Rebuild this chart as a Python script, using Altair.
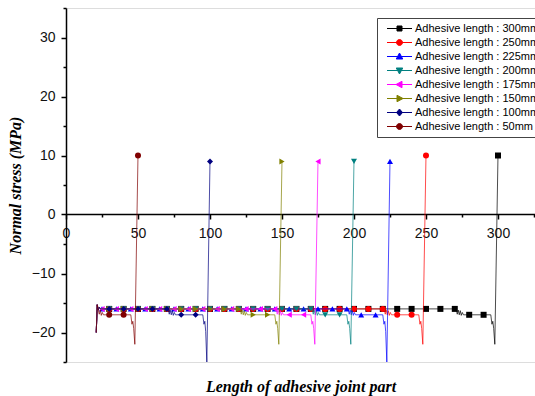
import altair as alt
import pandas as pd

names = [
    "Adhesive length : 300mm", "Adhesive length : 250mm", "Adhesive length : 225mm",
    "Adhesive length : 200mm", "Adhesive length : 175mm", "Adhesive length : 150mm",
    "Adhesive length : 100mm", "Adhesive length : 50mm",
]
colors = ["#000000", "#ff0000", "#0000ff", "#008080", "#ff00ff", "#808000", "#000080", "#800000"]
shapes = ["square", "circle", "triangle-up", "triangle-down", "triangle-left", "triangle-right", "diamond", "circle"]

# legend symbols: short line + marker (custom paths)
legend_paths = [
    "M-2.5,0H2.5M-0.5,-0.5H0.5V0.5H-0.5Z",
    "M-2.5,0H2.5M-0.6,0A0.6,0.6,0,1,0,0.6,0A0.6,0.6,0,1,0,-0.6,0Z",
    "M-2.5,0H2.5M0,-0.7L0.65,0.5L-0.65,0.5Z",
    "M-2.5,0H2.5M0,0.7L0.65,-0.5L-0.65,-0.5Z",
    "M-2.5,0H2.5M-0.7,0L0.5,-0.65L0.5,0.65Z",
    "M-2.5,0H2.5M0.7,0L-0.5,-0.65L-0.5,0.65Z",
    "M-2.5,0H2.5M0,-0.7L0.6,0L0,0.7L-0.6,0Z",
    "M-2.5,0H2.5M-0.6,0A0.6,0.6,0,1,0,0.6,0A0.6,0.6,0,1,0,-0.6,0Z",
]

# ---- line paths (x in mm, y in MPa) ----
lx300 = [21, 21.7, 22.4, 23.1, 24, 271, 271.7, 272.4, 273.1, 273.8, 274.5, 275.2, 276, 295, 295.8, 296.4, 297, 297.8, 300]
ly300 = [-20, -15.3, -16.2, -15.7, -16, -16, -16.9, -16.2, -17, -16.3, -17.1, -16.6, -17, -17, -18.6, -18.1, -19.3, -22, 10]
lx250 = [21, 21.7, 22.4, 23.1, 24, 221, 221.7, 222.4, 223.1, 223.8, 224.5, 225.2, 226, 245, 245.8, 246.4, 247, 247.8, 250]
ly250 = [-20, -15.3, -16.2, -15.7, -16, -16, -16.9, -16.2, -17, -16.3, -17.1, -16.6, -17, -17, -18.6, -18.1, -19.3, -22, 10]
lx225 = [21, 21.7, 22.4, 23.1, 24, 196, 196.7, 197.4, 198.1, 198.8, 199.5, 200.2, 201, 220, 220.8, 221.4, 222, 222.8, 225]
ly225 = [-20, -15.3, -16.2, -15.7, -16, -16, -16.9, -16.2, -17, -16.3, -17.1, -16.6, -17, -17, -18.6, -18.1, -19.8, -25, 9]
lx200 = [21, 21.7, 22.4, 23.1, 24, 171, 171.7, 172.4, 173.1, 173.8, 174.5, 175.2, 176, 195, 195.8, 196.4, 197, 197.8, 200]
ly200 = [-20, -15.3, -16.2, -15.7, -16, -16, -16.9, -16.2, -17, -16.3, -17.1, -16.6, -17, -17, -18.6, -18.1, -19.3, -22, 9]
lx175 = [21, 21.7, 22.4, 23.1, 24, 146, 146.7, 147.4, 148.1, 148.8, 149.5, 150.2, 151, 170, 170.8, 171.4, 172, 172.8, 175]
ly175 = [-20, -15.3, -16.2, -15.7, -16, -16, -16.9, -16.2, -17, -16.3, -17.1, -16.6, -17, -17, -18.6, -18.1, -19.3, -22, 9]
lx150 = [21, 21.7, 22.4, 23.1, 24, 121, 121.7, 122.4, 123.1, 123.8, 124.5, 125.2, 126, 145, 145.8, 146.4, 147, 147.8, 150]
ly150 = [-20, -15.3, -16.2, -15.7, -16, -16, -16.9, -16.2, -17, -16.3, -17.1, -16.6, -17, -17, -18.6, -18.1, -19.3, -22, 9]
lx100 = [21, 21.7, 22.4, 23.1, 24, 71, 71.7, 72.4, 73.1, 73.8, 74.5, 75.2, 76, 95, 95.8, 96.4, 97, 97.8, 100]
ly100 = [-20, -15.3, -16.2, -15.7, -16, -16, -16.9, -16.2, -17, -16.3, -17.1, -16.6, -17, -17, -18.6, -18.1, -19.8, -25, 9]
lx50 = [21, 21.7, 22.4, 23.1, 23.8, 24.5, 25.2, 26, 45, 45.8, 46.4, 47, 47.8, 50]
ly50 = [-20, -15.3, -16.2, -16.9, -16.2, -17.1, -16.6, -17, -17, -18.6, -18.1, -19.3, -22, 10]

# ---- marker positions ----
mx300 = [30, 40, 50, 60, 70, 80, 90, 100, 110, 120, 130, 140, 150, 160, 170, 180, 190, 200, 210, 220, 230, 240, 250, 260, 270, 280, 290, 300]
my300 = [-16, -16, -16, -16, -16, -16, -16, -16, -16, -16, -16, -16, -16, -16, -16, -16, -16, -16, -16, -16, -16, -16, -16, -16, -16, -17, -17, 10]
mx250 = [30, 40, 50, 60, 70, 80, 90, 100, 110, 120, 130, 140, 150, 160, 170, 180, 190, 200, 210, 220, 230, 240, 250]
my250 = [-16, -16, -16, -16, -16, -16, -16, -16, -16, -16, -16, -16, -16, -16, -16, -16, -16, -16, -16, -16, -17, -17, 10]
mx225 = [25, 35, 45, 55, 65, 75, 85, 95, 105, 115, 125, 135, 145, 155, 165, 175, 185, 195, 205, 215, 225]
my225 = [-16, -16, -16, -16, -16, -16, -16, -16, -16, -16, -16, -16, -16, -16, -16, -16, -16, -16, -17, -17, 9]
mx200 = [30, 40, 50, 60, 70, 80, 90, 100, 110, 120, 130, 140, 150, 160, 170, 180, 190, 200]
my200 = [-16, -16, -16, -16, -16, -16, -16, -16, -16, -16, -16, -16, -16, -16, -16, -17, -17, 9]
mx175 = [25, 35, 45, 55, 65, 75, 85, 95, 105, 115, 125, 135, 145, 155, 165, 175]
my175 = [-16, -16, -16, -16, -16, -16, -16, -16, -16, -16, -16, -16, -16, -17, -17, 9]
mx150 = [30, 40, 50, 60, 70, 80, 90, 100, 110, 120, 130, 140, 150]
my150 = [-16, -16, -16, -16, -16, -16, -16, -16, -16, -16, -17, -17, 9]
mx100 = [30, 40, 50, 60, 70, 80, 90, 100]
my100 = [-16, -16, -16, -16, -16, -17, -17, 9]
mx50 = [30, 40, 50]
my50 = [-17, -17, 10]

line_xs = [lx300, lx250, lx225, lx200, lx175, lx150, lx100, lx50]
line_ys = [ly300, ly250, ly225, ly200, ly175, ly150, ly100, ly50]
mark_xs = [mx300, mx250, mx225, mx200, mx175, mx150, mx100, mx50]
mark_ys = [my300, my250, my225, my200, my175, my150, my100, my50]

x_ticks = [0, 25, 50, 75, 100, 125, 150, 175, 200, 225, 250, 275, 300, 325]
y_ticks = [-25, -20, -15, -10, -5, 0, 5, 10, 15, 20, 25, 30, 35]

xscale = alt.Scale(domain=[0, 325.7], nice=False, zero=False)
yscale = alt.Scale(domain=[-25, 35], nice=False, zero=False)

xaxis = alt.Axis(
    values=x_ticks, labelExpr="datum.value % 50 === 0 ? datum.label : ''",
    offset=-148, orient="bottom", grid=False, labelFlush=False, labelOverlap=False,
    tickSize={"condition": {"test": "datum.value % 50 === 0", "value": 5}, "value": 3},
    domainColor="black", tickColor="black", domainWidth=1.5, tickWidth=1.5,
    labelFont="Liberation Sans", labelFontSize=14, labelColor="#111", labelPadding=7,
    title="Length of adhesive joint part", titleFont="Liberation Serif", titleFontSize=16,
    titleFontWeight="bold", titleFontStyle="italic", titleColor="black",
    titleY=177, titleBaseline="alphabetic",
)
yaxis = alt.Axis(
    values=y_ticks, labelExpr="datum.value % 10 === 0 ? datum.label : ''",
    orient="left", grid=False, labelOverlap=False, labelFlush=False,
    tickSize={"condition": {"test": "datum.value % 10 === 0", "value": 5}, "value": 3},
    domainColor="black", tickColor="black", domainWidth=1.5, tickWidth=1.5,
    labelFont="Liberation Sans", labelFontSize=14, labelColor="#111", labelPadding=6,
    title="Normal stress (MPa)", titleFont="Liberation Serif", titleFontSize=16,
    titleFontWeight="bold", titleFontStyle="italic", titleColor="black",
    titleAngle=-90, titleX=-46, titleY=177, titleAlign="center", titleBaseline="alphabetic",
)

layers = []
for i in range(8):
    ldf = pd.DataFrame({"x": line_xs[i], "y": line_ys[i], "i": list(range(len(line_xs[i])))})
    pdf = pd.DataFrame({"x": mark_xs[i], "y": mark_ys[i]})
    line = alt.Chart(ldf).mark_line(color=colors[i], strokeWidth=1, opacity=0.7, clip=True).encode(
        x=alt.X("x:Q", scale=xscale, axis=xaxis),
        y=alt.Y("y:Q", scale=yscale, axis=yaxis),
        order="i:Q",
    )
    pts = alt.Chart(pdf).mark_point(filled=True, shape=shapes[i], size=36, color=colors[i],
                                    opacity=1, clip=True).encode(
        x=alt.X("x:Q", scale=xscale, axis=xaxis),
        y=alt.Y("y:Q", scale=yscale, axis=yaxis),
    )
    layers += [line, pts]

leg = alt.Legend(
    title=None, orient="none", legendX=311, legendY=10, padding=5,
    symbolOffset=12, labelOffset=10, symbolSize=100, symbolStrokeWidth=1,
    labelFont="Liberation Sans", labelFontSize=11, labelColor="black", labelLimit=400,
    rowPadding=2, fillColor="white", strokeColor="#444", symbolOpacity=1,
)
legdf = pd.DataFrame({"name": names, "x": [-100] * 8, "y": [0] * 8})
legend_layer = alt.Chart(legdf).mark_point(filled=True, size=100, clip=True).encode(
    x=alt.X("x:Q", scale=xscale, axis=xaxis),
    y=alt.Y("y:Q", scale=yscale, axis=yaxis),
    fill=alt.Fill("name:N", scale=alt.Scale(domain=names, range=colors), legend=leg),
    stroke=alt.Stroke("name:N", scale=alt.Scale(domain=names, range=colors), legend=leg),
    shape=alt.Shape("name:N", scale=alt.Scale(domain=names, range=legend_paths), legend=leg),
)

chart = alt.layer(legend_layer, *layers).properties(
    width=469, height=354,
    padding={"left": 66, "top": 8, "right": 0, "bottom": 34},
    autosize=alt.AutoSizeParams(type="none"),
).configure_view(stroke=None).configure(background="white")

chart.save("out.html", embed_options={"renderer": "svg", "actions": False})
